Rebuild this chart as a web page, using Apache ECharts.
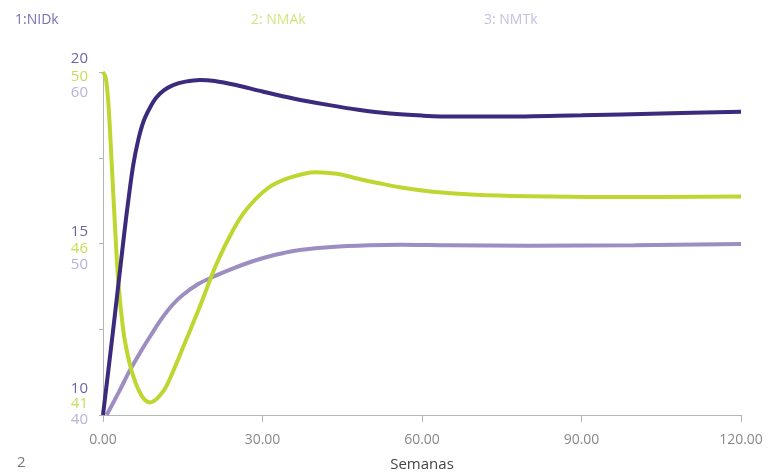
<!DOCTYPE html>
<html>
<head>
<meta charset="utf-8">
<script src="https://cdn.jsdelivr.net/npm/echarts@6/dist/echarts.min.js"></script>
<style>html,body{margin:0;padding:0;background:#fff}#c{width:780px;height:473px}</style>
</head>
<body>
<div id="c"></div>
<script>
// Data (weeks vs values)
const nidkT = [0,2,4,4.8,5.7,6.6,7.6,8.8,10,11.5,13.2,15.5,18.2,21,25,30,36,42,48,54,60,66,75,90,105,120];
const nidkV = [10,12.6,15.3,16.3,17.3,18.0,18.55,18.95,19.25,19.47,19.62,19.72,19.77,19.74,19.62,19.43,19.22,19.05,18.9,18.79,18.73,18.7,18.7,18.74,18.79,18.84];

const nmakT = [0,0.5,1,1.6,2.26,2.9,3.8,4.6,5.4,6.2,7,7.6,8.2,8.8,9.5,10.3,11.2,12,13.5,15.1,18.2,21.4,24.5,27,31,35,40,44,48,52,57,62,70,80,95,120];
const nmakV = [50,49.85,49.2,47.7,45.94,44.46,43.23,42.6,42.15,41.82,41.57,41.44,41.36,41.33,41.36,41.45,41.6,41.78,42.25,42.79,43.84,44.98,45.86,46.4,46.95,47.22,47.37,47.33,47.2,47.08,46.95,46.86,46.78,46.74,46.72,46.73];

const nmtkT = [0.7,3,5,7,9,11,13,15,18,21,24.5,28,31,34,37,43,50,56,65,80,100,120];
const nmtkV = [40,41.35,42.57,43.65,44.65,45.6,46.4,47.0,47.65,48.1,48.55,48.95,49.23,49.45,49.62,49.8,49.9,49.93,49.9,49.87,49.9,49.97];

const xTicks = [0,30,60,90,120];
const nidkLabels = ['10','15','20'];
const nmakLabels = ['41','46','50'];
const nmtkLabels = ['40','50','60'];
const seriesNames = ['1:NIDk','2: NMAk','3: NMTk'];

const zip = (t, v) => t.map((x, i) => [x, v[i]]);
const FONT = '"Open Sans", "Noto Sans", sans-serif';
const C_NIDK = '#3c2a7c', C_NMAK = '#bfd630', C_NMTK = '#9d8dc1';
const L_NIDK = '#6e64a4', L_NMAK = '#c9dd55', L_NMTK = '#bab1d6';

// pads: [bottom label, middle label, top label]
function makeY(min, max, interval, labels, color, pads, showLine) {
  const rich = {};
  ['b', 'm', 't'].forEach((k, i) => {
    rich[k] = {fontFamily: FONT, fontSize: 15, color: color, padding: pads[i]};
  });
  return {
    type: 'value', position: 'left', min: min, max: max, interval: interval,
    splitLine: {show: false},
    axisLine: {show: showLine, lineStyle: {color: '#b5b5b5', width: 1}},
    axisTick: {show: showLine, inside: false, length: 4, lineStyle: {color: '#b5b5b5'}},
    axisLabel: {
      show: true, margin: 15, fontFamily: FONT, fontSize: 15, color: color,
      formatter: function (v) {
        const step = (max - min) / (labels.length - 1);
        const k = Math.round((v - min) / step);
        if (Math.abs(min + k * step - v) > 1e-6) return '';
        return '{' + ['b', 'm', 't'][k] + '|' + labels[k] + '}';
      },
      rich: rich
    }
  };
}

const chart = echarts.init(document.getElementById('c'), null, {renderer: 'canvas'});
chart.setOption({
  animation: false,
  backgroundColor: '#ffffff',
  grid: {left: 103, right: 39, top: 72, bottom: 58, containLabel: false, outerBoundsMode: 'none'},
  title: [
    {text: seriesNames[0], left: 15, top: 13, padding: 0, textStyle: {fontFamily: FONT, fontSize: 14, fontWeight: 'normal', color: '#7a71ad'}},
    {text: seriesNames[1], left: 251, top: 13, padding: 0, textStyle: {fontFamily: FONT, fontSize: 14, fontWeight: 'normal', color: '#d3e383'}},
    {text: seriesNames[2], left: 484, top: 13, padding: 0, textStyle: {fontFamily: FONT, fontSize: 14, fontWeight: 'normal', color: '#c6bfdf'}}
  ],
  graphic: [
    {type: 'text', left: 17, top: 455, style: {text: '2', fontFamily: FONT, fontSize: 15, fill: '#777'}}
  ],
  xAxis: {
    type: 'value', min: 0, max: 120, interval: 30,
    name: 'Semanas', nameLocation: 'middle', nameGap: 42,
    nameTextStyle: {fontFamily: FONT, fontSize: 15, color: '#444'},
    splitLine: {show: false},
    axisLine: {lineStyle: {color: '#b5b5b5', width: 1}},
    axisTick: {show: true, length: 7, lineStyle: {color: '#b5b5b5'}},
    axisLabel: {margin: 18, fontFamily: FONT, fontSize: 14, color: '#888',
      formatter: v => xTicks.indexOf(v) >= 0 ? v.toFixed(2) : ''}
  },
  yAxis: [
    makeY(10, 20, 2.5, nidkLabels, L_NIDK, [[0,0,52,0],[0,0,23,0],[0,0,26,0]], true),
    makeY(41, 50, 4.5, nmakLabels, L_NMAK, [[0,0,22,0],[10,0,0,0],[10,0,0,0]], false),
    makeY(40, 60, 10, nmtkLabels, L_NMTK, [[10,0,0,0],[43,0,0,0],[42,0,0,0]], false)
  ],
  series: [
    {name: seriesNames[2], type: 'line', yAxisIndex: 2, data: zip(nmtkT, nmtkV), smooth: 0.35, showSymbol: false,
     lineStyle: {color: C_NMTK, width: 4}, z: 2},
    {name: seriesNames[1], type: 'line', yAxisIndex: 1, data: zip(nmakT, nmakV), smooth: 0.35, showSymbol: false,
     lineStyle: {color: C_NMAK, width: 4}, z: 3},
    {name: seriesNames[0], type: 'line', yAxisIndex: 0, data: zip(nidkT, nidkV), smooth: 0.35, showSymbol: false,
     lineStyle: {color: C_NIDK, width: 4}, z: 4}
  ]
});
</script>
</body>
</html>
